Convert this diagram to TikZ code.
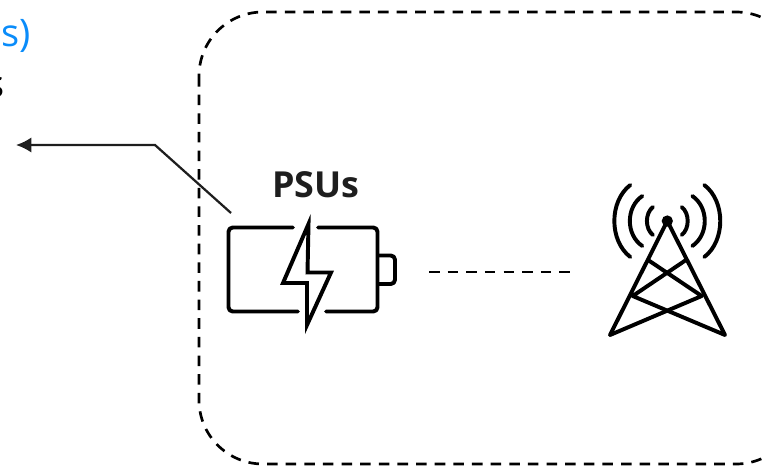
\documentclass[tikz,border=0pt]{standalone}
\usepackage{fontspec}
\usetikzlibrary{arrows.meta,calc}
\setmainfont{Open Sans}
\definecolor{noteblue}{RGB}{10,140,250}
\definecolor{inkgray}{RGB}{30,30,30}
\tikzset{
  icon/.style={line width=2.8pt, line join=round, line cap=round},
  boundary/.style={line width=1.9pt, dash pattern=on 7.5pt off 5.75pt},
  label/.style={inner sep=0pt, font=\fontsize{27}{30}\selectfont},
}
\begin{document}
\begin{tikzpicture}[x=0.025cm, y=-0.025cm]
\useasboundingbox (0,0) rectangle (762,467);
% site boundary
\draw[boundary, rounded corners=1.6cm] (199,12) rectangle (800,464);
% labels cut by the page edge
\node[label, text=noteblue, anchor=base east] (title) at (31,46) {s)};
\node[label, text=black, anchor=base east] (sub) at (5,97) {s};
\node[label, text=inkgray, font=\fontsize{25.5}{30}\selectfont\bfseries, anchor=base] (psu) at (316,197) {PSUs};
% battery
\draw[icon, rounded corners=3pt] (293,227.5) -- (228.5,227.5) -- (228.5,311.5) -- (298,311.5);
\draw[icon, rounded corners=3pt] (318,227.5) -- (377.5,227.5) -- (377.5,311.5) -- (326,311.5);
\draw[icon, rounded corners=3pt] (378,255.5) -- (395,255.5) -- (395,284) -- (378,284);
\draw[icon, line cap=butt, miter limit=10, line join=miter] (308.5,224) -- (283,283) -- (307,283) -- (307,325) -- (331,272.5) -- (307.5,272.5) -- cycle;
% tower
\node[circle, fill=black, inner sep=0pt, minimum size=8pt] (top) at (667.3,221) {};
\draw[icon] (610,335) -- (top.center) -- (725,335) -- (632.7,296) -- (686,260);
\draw[icon] (648,260) -- (701.7,296) -- (610,335);
\foreach \dx/\dy/\bulge in {14.4/14/6, 25/25/12.5, 37/36/16}{
  \draw[icon] ($(top)+(\dx,-\dy)$) .. controls ($(top)+(\dx+\bulge*1.33,-\dy*0.55)$) and ($(top)+(\dx+\bulge*1.33,\dy*0.55)$) .. ($(top)+(\dx,\dy)$);
  \draw[icon] ($(top)+(-\dx,-\dy)$) .. controls ($(top)+(-\dx-\bulge*1.33,-\dy*0.55)$) and ($(top)+(-\dx-\bulge*1.33,\dy*0.55)$) .. ($(top)+(-\dx,\dy)$);
}
% links
\coordinate (bend) at (155,145);
\coordinate (out) at (16,145);
\coordinate (start) at (231,213);
\draw[-{Latex[length=11pt,width=11pt]}, line width=1.6pt, inkgray] (start) -- (bend) -- (out);
\coordinate (linka) at (429,272);
\coordinate (linkb) at (571,272);
\draw[boundary] (linka) -- (linkb);
\end{tikzpicture}
\end{document}
